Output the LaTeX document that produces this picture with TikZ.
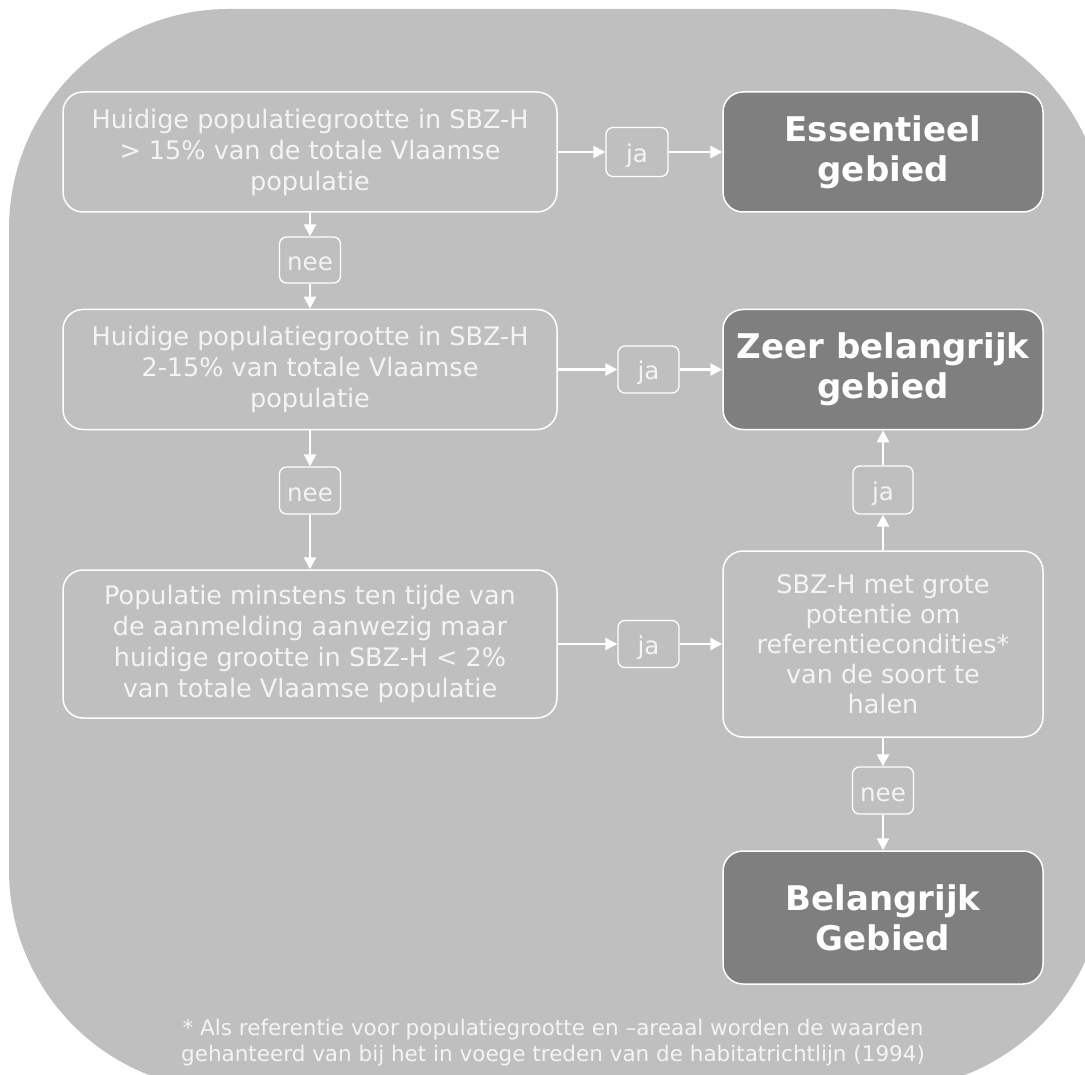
\documentclass[tikz,border=0pt]{standalone}
\usepackage{fontspec}
\setmainfont{DejaVu Sans}
\usetikzlibrary{arrows.meta}
\definecolor{panel}{HTML}{BFBFBF}
\definecolor{darkbox}{HTML}{7F7F7F}
\definecolor{lighttext}{HTML}{F4F4F4}

\begin{document}
\begin{tikzpicture}[x=1pt,y=-1pt,
  question/.style={draw=white, line width=1.5pt, rounded corners=20pt,
    text=lighttext, align=center, inner sep=0pt,
    font=\fontsize{25.5}{31}\selectfont, minimum width=494pt},
  outcome/.style={draw=white, fill=darkbox, line width=1.5pt, rounded corners=20pt,
    text=white, align=center, inner sep=0pt,
    font=\bfseries\fontsize{34}{40}\selectfont, minimum width=320pt},
  answer/.style={draw=white, line width=1.3pt, rounded corners=7pt,
    text=lighttext, inner sep=0pt, text height=22pt, text depth=1pt,
    font=\fontsize{24.5}{29}\selectfont, minimum width=61pt, minimum height=47pt},
  flow/.style={draw=white, line width=2.5pt, -{Triangle[length=12pt,width=12pt]}}
]
\useasboundingbox (0,0) rectangle (1085,1075);
\begin{scope}
  \clip (0,0) rectangle (1085,1075);
  \fill[panel, rounded corners=220pt] (9,9) rectangle (1105,1090);
\end{scope}

% decision boxes (left column)
\node[question, minimum height=120pt] (q1) at (310,152)
  {Huidige populatiegrootte in SBZ-H\\> 15\% van de totale Vlaamse\\populatie};
\node[question, minimum height=120pt] (q2) at (310,369.5)
  {Huidige populatiegrootte in SBZ-H\\2-15\% van totale Vlaamse\\populatie};
\node[question, minimum height=148pt] (q3) at (310,644)
  {Populatie minstens ten tijde van\\de aanmelding aanwezig maar\\huidige grootte in SBZ-H < 2\%\\van totale Vlaamse populatie};

% right column
\node[outcome, minimum height=120pt] (ess) at (883,152) {Essentieel\\gebied};
\node[outcome, minimum height=120pt] (zb) at (883,369.5) {Zeer belangrijk\\gebied};
\node[question, minimum width=320pt, minimum height=186pt,
  font=\fontsize{25.5}{30}\selectfont] (pot) at (883,644)
  {SBZ-H met grote\\potentie om\\referentiecondities*\\van de soort te\\halen};
\node[outcome, minimum height=133pt] (bel) at (883,917.5) {Belangrijk\\Gebied};

% answer labels
\node[answer, minimum width=62pt, minimum height=49pt] (ja1) at (637,152) {ja};
\node[answer] (ja2) at (648.5,369.5) {ja};
\node[answer] (ja3) at (648.5,644) {ja};
\node[answer, minimum width=60pt, minimum height=48pt] (ja4) at (883,490) {ja};
\node[answer, minimum height=46pt] (nee1) at (310,260) {nee};
\node[answer] (nee2) at (310,490.5) {nee};
\node[answer] (nee3) at (883,790.5) {nee};

% connectors
\draw[flow] (q1) -- (ja1);
\draw[flow] (ja1) -- (ess);
\draw[flow] (q1) -- (nee1);
\draw[flow] (nee1) -- (q2);
\draw[flow] (q2) -- (ja2);
\draw[flow] (ja2) -- (zb);
\draw[flow] (q2) -- (nee2);
\draw[flow] (nee2) -- (q3);
\draw[flow] (q3) -- (ja3);
\draw[flow] (ja3) -- (pot);
\draw[flow] (pot) -- (ja4);
\draw[flow] (ja4) -- (zb);
\draw[flow] (pot) -- (nee3);
\draw[flow] (nee3) -- (bel);

% footnote
\node[text=lighttext, align=center, inner sep=0pt,
  font=\fontsize{21.5}{26}\selectfont] (note) at (553,1043)
  {* Als referentie voor populatiegrootte en –areaal worden de waarden\\gehanteerd van bij het in voege treden van de habitatrichtlijn (1994)};
\end{tikzpicture}
\end{document}
